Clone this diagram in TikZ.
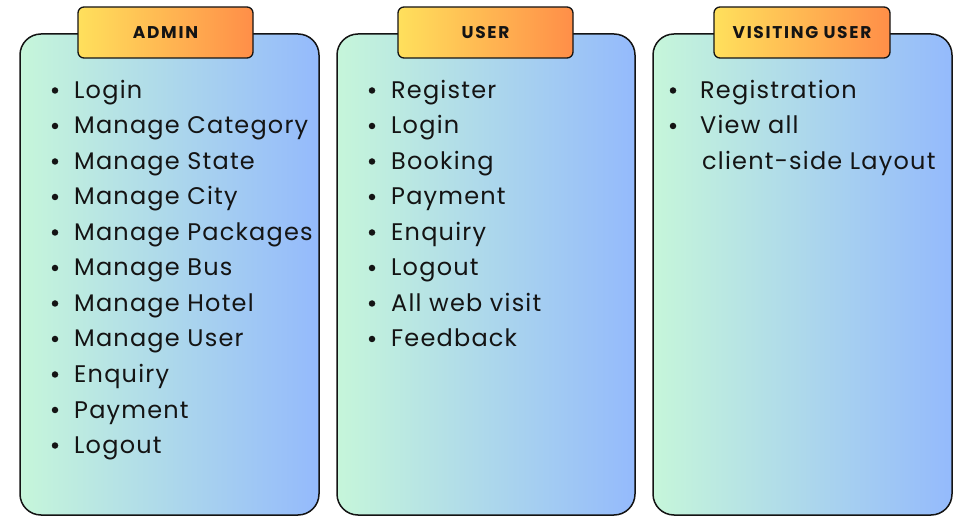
\documentclass[tikz,border=0pt]{standalone}
\usepackage{fontspec}
\setmainfont{Poppins}
\newfontfamily\itemfont{Poppins}[LetterSpace=5]
\newfontfamily\headfont{Poppins}[LetterSpace=10]
\definecolor{mintc}{RGB}{198,246,218}
\definecolor{bluec}{RGB}{148,186,252}
\definecolor{yelc}{RGB}{255,224,92}
\definecolor{orac}{RGB}{255,142,72}
\definecolor{edgec}{RGB}{20,20,20}
\tikzset{
  panel/.style={draw=edgec, line width=1.5pt, rounded corners=21pt, left color=mintc, right color=bluec},
  tab/.style={draw=edgec, line width=1.3pt, rounded corners=6pt, left color=yelc, right color=orac},
  headtxt/.style={font=\headfont\bfseries\fontsize{17}{20}\selectfont, text=edgec, inner sep=0pt},
  itemtxt/.style={font=\itemfont\fontsize{24}{28}\selectfont, text=edgec, anchor=base west, inner sep=0pt},
  bul/.style={circle, fill=edgec, inner sep=0pt, minimum size=6.5pt}
}
\begin{document}
\begin{tikzpicture}[x=1pt,y=-1pt]
\useasboundingbox (0,0) rectangle (980,526);
% panels
\draw[panel] (20,34) rectangle (319,515);
\draw[panel] (337,34) rectangle (635,515);
\draw[panel] (653,34) rectangle (952,515);
% tabs
\draw[tab] (78,7) rectangle (253,58);
\draw[tab] (398,7) rectangle (573,58);
\draw[tab] (714,7) rectangle (890,58);
\node[headtxt] (hA) at (165.5,33) {ADMIN};
\node[headtxt] (hU) at (485.5,33) {USER};
\node[headtxt] (hV) at (802,33) {VISITING USER};
% admin items
\foreach \t [count=\i from 0] in {Login,Manage Category,Manage State,Manage City,Manage Packages,Manage Bus,Manage Hotel,Manage User,Enquiry,Payment,Logout}{
  \node[bul] (ab\i) at (55,90.5+35.5*\i) {};
  \node[itemtxt] (a\i) at (74,98.5+35.5*\i) {\t};
}
% user items
\foreach \t [count=\i from 0] in {Register,Login,Booking,Payment,Enquiry,Logout,All web visit,Feedback}{
  \node[bul] (ub\i) at (372,90.5+35.5*\i) {};
  \node[itemtxt] (u\i) at (391,98.5+35.5*\i) {\t};
}
% visiting user items
\node[bul] (vb0) at (673,90.5) {};
\node[itemtxt] (v0) at (700,98.5) {Registration};
\node[bul] (vb1) at (673,126) {};
\node[itemtxt] (v1) at (700,134) {View all};
\node[itemtxt] (v2) at (702,169.5) {client-side Layout};
\end{tikzpicture}
\end{document}
